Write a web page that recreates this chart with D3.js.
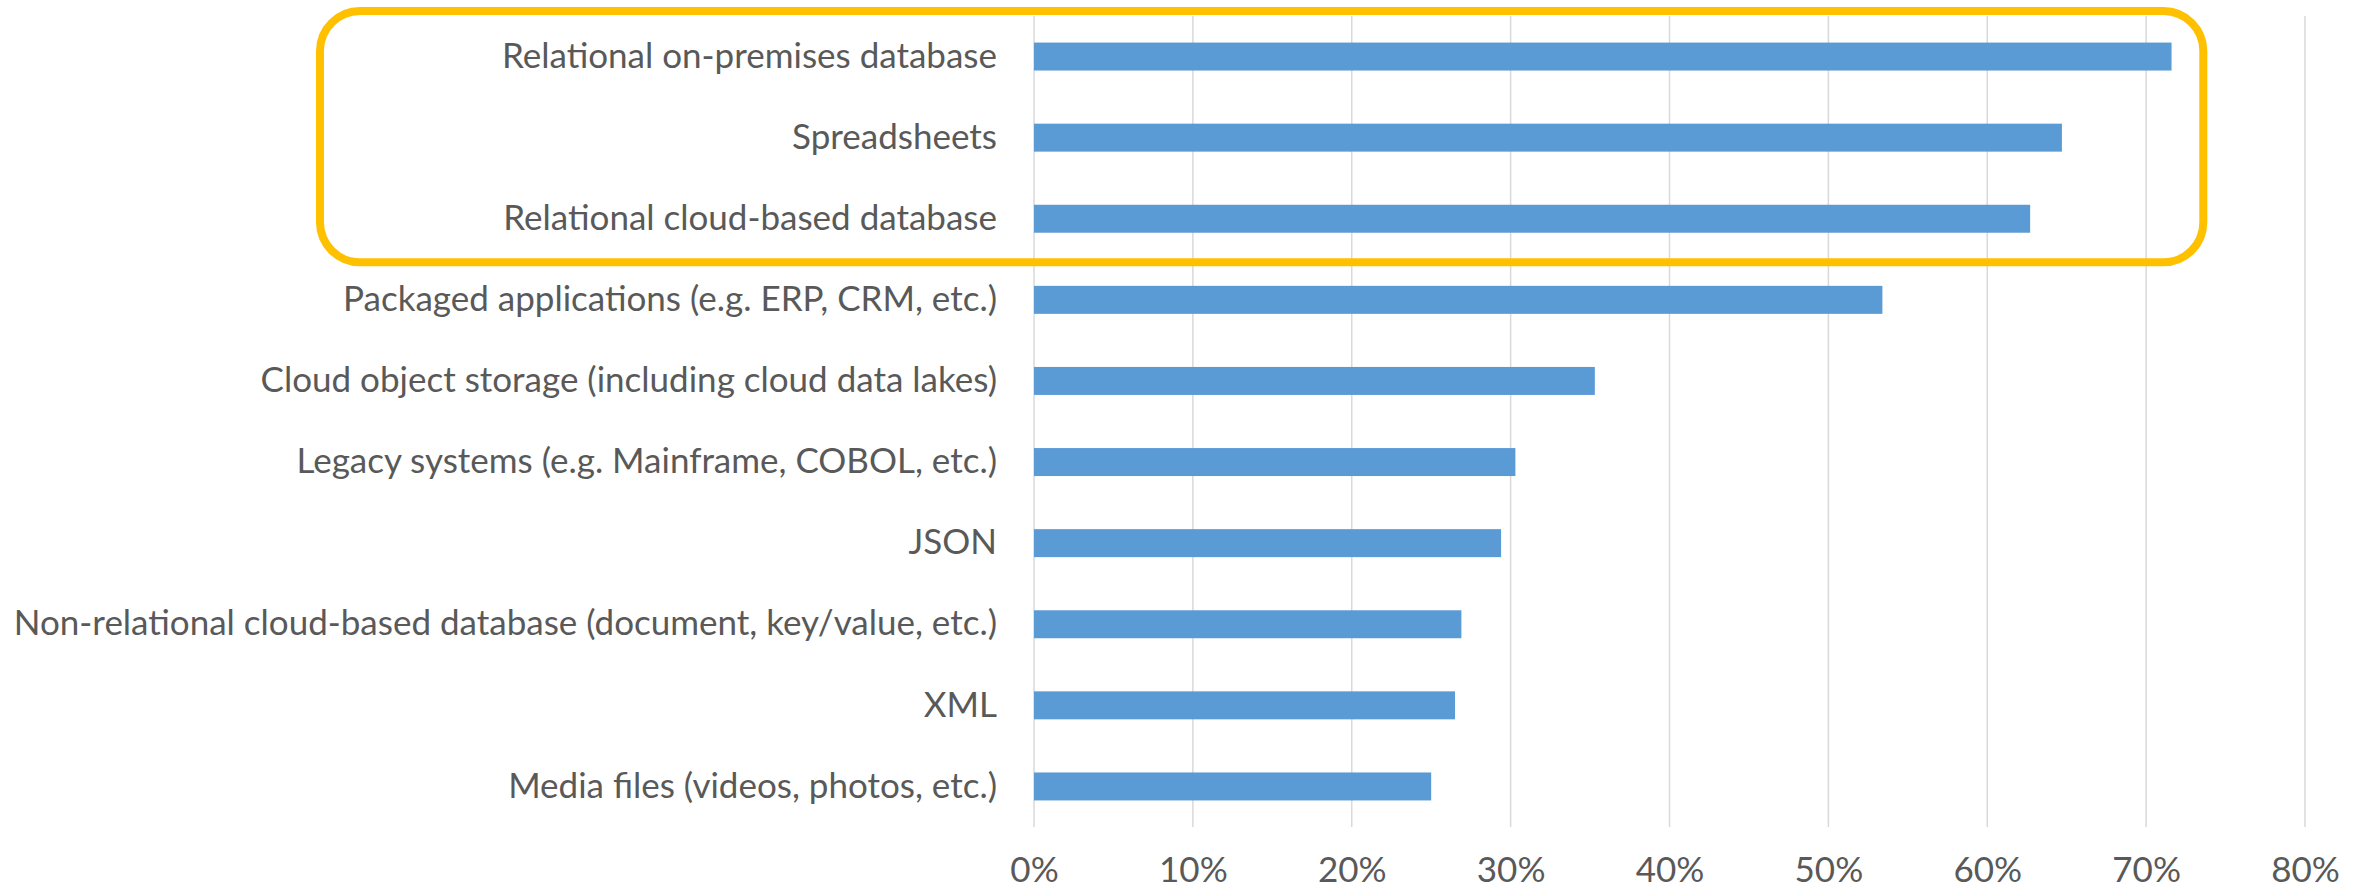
<!DOCTYPE html>
<html>
<head>
<meta charset="utf-8">
<script src="https://cdn.jsdelivr.net/npm/d3@7"></script>
<style>
  body { margin: 0; background: #fff; }
  svg text { font-family: Lato, "Open Sans", sans-serif; fill: #595959; }
</style>
</head>
<body>
<svg id="chart" width="2364" height="890"></svg>
<script>
// categories, top to bottom
var categories = [
  "Relational on-premises database",
  "Spreadsheets",
  "Relational cloud-based database",
  "Packaged applications (e.g. ERP, CRM, etc.)",
  "Cloud object storage (including cloud data lakes)",
  "Legacy systems (e.g. Mainframe, COBOL, etc.)",
  "JSON",
  "Non-relational cloud-based database (document, key/value, etc.)",
  "XML",
  "Media files (videos, photos, etc.)"
];
var values = [0.716, 0.647, 0.627, 0.534, 0.353, 0.303, 0.294, 0.269, 0.265, 0.250];
var ticks = [0, 0.1, 0.2, 0.3, 0.4, 0.5, 0.6, 0.7, 0.8];
var highlighted = categories.slice(0, 3);

var svg = d3.select("#chart"),
    margin = {top: 16, right: 59, bottom: 63, left: 1034},
    width = +svg.attr("width") - margin.left - margin.right,
    height = +svg.attr("height") - margin.top - margin.bottom;

var x = d3.scaleLinear().domain([0, 0.8]).range([0, width]);
var y = d3.scaleBand().domain(categories).range([0, height]).paddingInner(0.655).paddingOuter(0.3275);

var g = svg.append("g").attr("transform", "translate(" + margin.left + "," + margin.top + ")");

/** vertical gridlines */
g.selectAll(".grid")
  .data(ticks)
  .enter().append("line")
  .attr("x1", function(d) { return x(d); })
  .attr("x2", function(d) { return x(d); })
  .attr("y1", 0)
  .attr("y2", height)
  .attr("stroke", "#d9d9d9")
  .attr("stroke-width", 1.5);

/** bars */
g.selectAll(".bar")
  .data(values)
  .enter().append("rect")
  .attr("class", "bar")
  .attr("x", x(0))
  .attr("y", function(d, i) { return y(categories[i]); })
  .attr("width", function(d) { return x(d) - x(0); })
  .attr("height", y.bandwidth())
  .attr("fill", "#5b9bd5");

/** category labels */
var yAxis = g.append("g")
  .call(d3.axisLeft(y).tickSize(0).tickPadding(37));
yAxis.select(".domain").remove();
yAxis.selectAll("text")
  .style("font-size", "35px")
  .style("font-family", "Lato, 'Open Sans', sans-serif")
  .attr("fill", "#595959");

/** percent labels */
var xAxis = g.append("g")
  .attr("transform", "translate(0," + height + ")")
  .call(d3.axisBottom(x).tickValues(ticks).tickFormat(d3.format(".0%")).tickSize(0).tickPadding(30));
xAxis.select(".domain").remove();
xAxis.selectAll("text")
  .style("font-size", "35px")
  .style("font-family", "Lato, 'Open Sans', sans-serif")
  .attr("fill", "#595959");

/** highlight box round the top three */
var step = y.step();
var boxTop = y(highlighted[0]) - y.paddingOuter() * step - 5,
    boxBottom = y(highlighted[2]) + y.bandwidth() + y.paddingInner() * step / 2 + 3;
svg.append("rect")
  .attr("x", 320)
  .attr("y", margin.top + boxTop)
  .attr("width", margin.left + x(0.736) - 320)
  .attr("height", boxBottom - boxTop)
  .attr("rx", 40)
  .attr("ry", 40)
  .attr("fill", "none")
  .attr("stroke", "#ffc000")
  .attr("stroke-width", 8);
</script>
</body>
</html>
